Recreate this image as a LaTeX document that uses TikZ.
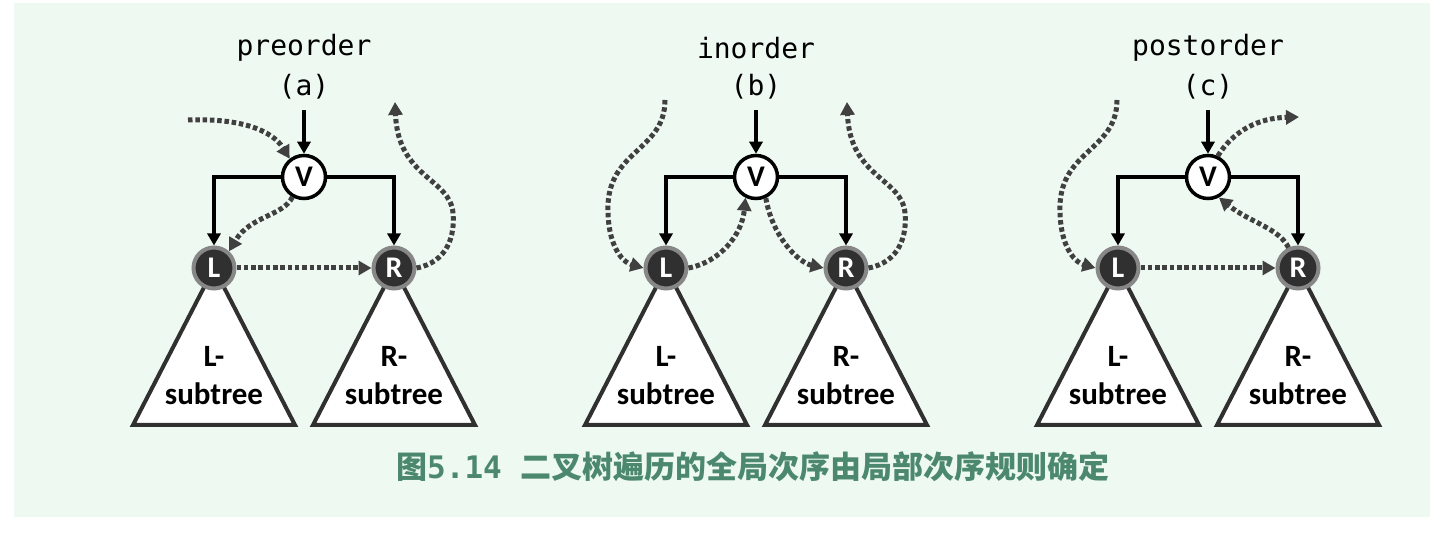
\documentclass[tikz,border=0pt]{standalone}
\usepackage{fontspec}
\setmainfont{Carlito}
\newfontfamily\codefont{DejaVu Sans Mono}
\newfontfamily\cjk{Noto Sans CJK SC}
\usetikzlibrary{arrows.meta}
\definecolor{bggreen}{RGB}{238,249,242}
\definecolor{capgreen}{RGB}{76,136,110}
\definecolor{nodedark}{RGB}{48,48,48}
\definecolor{ringgray}{RGB}{135,135,135}
\definecolor{walkgray}{RGB}{64,64,64}
\tikzset{
  vnode/.style={circle, draw=black, line width=3.5pt, fill=white, minimum size=43pt, inner sep=0pt,
    font=\fontsize{30}{30}\selectfont\bfseries},
  cnode/.style={circle, draw=ringgray, line width=4pt, fill=nodedark, text=white, minimum size=41pt,
    inner sep=0pt, font=\fontsize{30}{30}\selectfont\bfseries},
  subtri/.style={draw=nodedark, line width=4pt, fill=white, line join=miter},
  subtxt/.style={align=center, font=\fontsize{31}{38}\selectfont\bfseries},
  treelink/.style={line width=3.5pt, -{Triangle[length=12pt,width=13pt]}},
  walk/.style={walkgray, line width=5pt, dash pattern=on 4.5pt off 2.8pt, -{Triangle[length=13pt,width=14pt]}},
  ordername/.style={font=\codefont\fontsize{28}{30}\selectfont},
  caption/.style={text=capgreen, font=\fontsize{31}{34}\selectfont}
}
\begin{document}
\begin{tikzpicture}[x=1pt,y=-1pt]
    \useasboundingbox (0,0) rectangle (1454,534);
    % background panel
    \fill[bggreen] (14,3) rectangle (1430,517);

    % three small trees: V with its L and R subtrees
    \foreach \p/\dx/\word in {a/0/preorder, b/452/inorder, c/904/postorder} {
      \begin{scope}[xshift=\dx]
        \node[ordername] (w\p) at (304,48) {\word};
        \node[ordername] (t\p) at (304,87) {(\p)};
        \coordinate (top\p) at (304,110);
        \node[vnode] (V\p) at (304,177) {V};
        \draw[subtri] (214,268) -- ++(-81,157) -- ++(162,0) -- cycle;
        \draw[subtri] (394,268) -- ++(-81,157) -- ++(162,0) -- cycle;
        \node[subtxt] (Ls\p) at (214,376) {L-\\subtree};
        \node[subtxt] (Rs\p) at (394,376) {R-\\subtree};
        \node[cnode] (L\p) at (214,268) {L};
        \node[cnode] (R\p) at (394,268) {R};
        \draw[treelink] (top\p) -- (V\p);
        \draw[treelink] (V\p.west) -| (L\p);
        \draw[treelink] (V\p.east) -| (R\p);
      \end{scope}
    }

    % (a) preorder walk
    \coordinate (ina) at (188,120);
    \coordinate (outa) at (395,102);
    \draw[walk] (ina) .. controls (240,118) and (272,130) .. (Va.128);
    \draw[walk] (Va.240) .. controls (283,216) and (250,216) .. (La.48);
    \draw[walk] (La.east) -- (Ra.west);
    \draw[walk] (Ra.east) .. controls (448,262) and (455,235) .. (453,213)
                          .. controls (450,178) and (398,178) .. (outa);

    % (b) inorder walk
    \begin{scope}[xshift=452]
      \coordinate (inb) at (213,100);
      \coordinate (outb) at (395,102);
      \draw[walk] (inb) .. controls (213,150) and (158,150) .. (156,205)
                        .. controls (155,245) and (170,262) .. (Lb.west);
      \draw[walk] (Lb.east) .. controls (268,262) and (290,235) .. (Vb.243);
      \draw[walk] (Vb.295) .. controls (320,235) and (345,262) .. (Rb.west);
      \draw[walk] (Rb.east) .. controls (448,262) and (455,235) .. (453,213)
                            .. controls (450,178) and (398,178) .. (outb);
    \end{scope}

    % (c) postorder walk
    \begin{scope}[xshift=904]
      \coordinate (inc) at (213,100);
      \coordinate (outc) at (395,117);
      \draw[walk] (inc) .. controls (213,150) and (158,150) .. (156,205)
                        .. controls (155,245) and (170,262) .. (Lc.west);
      \draw[walk] (Lc.east) -- (Rc.west);
      \draw[walk] (Rc.115) .. controls (375,228) and (345,222) .. (Vc.298);
      \draw[walk] (Vc.65) .. controls (330,130) and (355,118) .. (outc);
    \end{scope}

    % caption
    \node[caption] (cap) at (753,467)
      {{\cjk\bfseries 图}{\codefont\bfseries 5.14}\hspace{19pt}{\cjk\bfseries 二叉树遍历的全局次序由局部次序规则确定}};
\end{tikzpicture}
\end{document}
